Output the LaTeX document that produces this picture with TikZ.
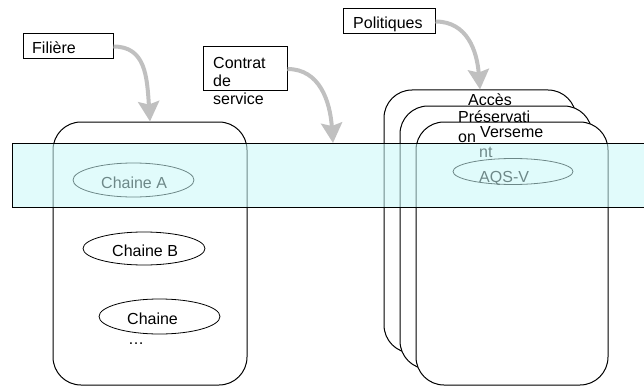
\documentclass[tikz,border=0pt]{standalone}
\usepackage{fontspec}
\setmainfont{Liberation Sans}
\usetikzlibrary{arrows.meta,shapes.geometric}
\definecolor{bandcyan}{RGB}{200,248,248}
\definecolor{arrowgray}{RGB}{192,192,192}
\begin{document}
\begin{tikzpicture}[x=1pt,y=-1pt,
  lbl/.style={font=\fontsize{16}{19}\selectfont, inner sep=0pt, anchor=base west},
  tag/.style={draw, line width=1pt, fill=white, inner sep=0pt},
  vessel/.style={draw, line width=1pt, rounded corners=28pt, inner sep=0pt,
    minimum width=192pt, minimum height=263pt},
  chain/.style={draw, ellipse, line width=0.8pt, inner sep=0pt},
  band/.style={draw, line width=1pt, fill=bandcyan, fill opacity=0.55, inner sep=0pt,
    minimum width=640pt, minimum height=64pt},
  pointer/.style={draw=arrowgray, line width=4pt,
    -{Stealth[length=20pt,width=21pt,inset=3pt]}}
]
\useasboundingbox (0,0) rectangle (644,385);

% stacked policy containers, back to front
\node[vessel, fill=white] (v1) at (480,221.5) {};
\node[vessel, fill=white] (v2) at (496,237.5) {};
\node[vessel, fill=white] (v3) at (512,253.5) {};

% filière container
\node[vessel, minimum width=194pt] (fil) at (150,253.5) {};

% chains
\node[chain, minimum width=121pt, minimum height=34pt] (ca) at (133.5,180) {};
\node[chain, minimum width=122pt, minimum height=33pt] (cb) at (144,248.5) {};
\node[chain, minimum width=121pt, minimum height=35pt] (cc) at (159.5,316.5) {};
\node[chain, minimum width=120pt, minimum height=26pt] (aqs) at (513,171.5) {};

\node[lbl] (tca) at (101,188) {Chaine A};
\node[lbl] (tcb) at (112,256) {Chaine B};
\node[lbl] (tcc) at (127,324) {Chaine};
\node[lbl] (tcd) at (128,344) {…};
\node[lbl] (taqs) at (479,182) {AQS-V};

% policy names
\node[lbl] (tacc) at (468,106) {Accès};
\node[lbl] (tpre1) at (458,122) {Préservati};
\node[lbl] (tpre2) at (458,142) {on};
\node[lbl] (tver1) at (480,137) {Verseme};
\node[lbl] (tver2) at (479,157) {nt};

% service band
\node[band] (bnd) at (332,175) {};
\coordinate (bndhit) at (333,143);

% caption boxes
\node[tag, minimum width=90pt, minimum height=25pt] (bfil) at (68,46.5) {};
\node[lbl] (tfil) at (32,54) {Filière};
\node[tag, minimum width=84pt, minimum height=44pt] (bcon) at (245,69) {};
\node[lbl] (tcon1) at (213,69) {Contrat};
\node[lbl] (tcon2) at (213,87) {de};
\node[lbl] (tcon3) at (213,105) {service};
\node[tag, minimum width=92pt, minimum height=25pt] (bpol) at (389,21.5) {};
\node[lbl] (tpol) at (353,29) {Politiques};

% pointers
\draw[pointer] (bfil.east) .. controls +(32,0) and +(-3,-45) .. (fil.north);
\draw[pointer] (bcon.east) .. controls +(32,0) and +(-3,-42) .. (bndhit);
\draw[pointer] (bpol.east) .. controls +(32,0) and +(-3,-38) .. (v1.north);
\end{tikzpicture}
\end{document}
